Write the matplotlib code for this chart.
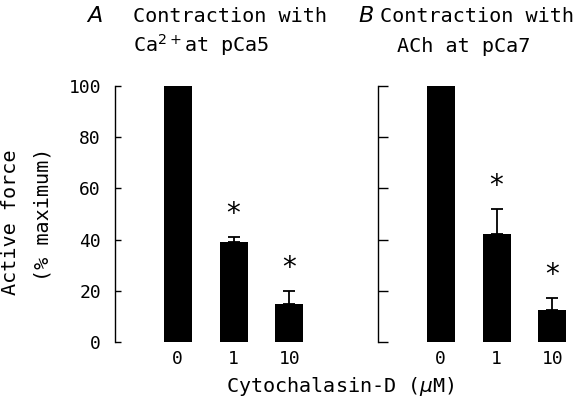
import matplotlib
matplotlib.use("Agg")
import matplotlib.pyplot as plt

# data
doses = ["0", "1", "10"]
force_ca = [100, 39, 15]        # panel A, Ca2+ at pCa5
err_ca = [0, 2, 5]
force_ach = [100, 42, 12.5]     # panel B, ACh at pCa7
err_ach = [0, 10, 4.5]
signif = [False, True, True]
yticks = [0, 20, 40, 60, 80, 100]

plt.rcParams['font.family'] = 'DejaVu Sans Mono'
plt.rcParams['mathtext.fontset'] = 'dejavusans'

W, H = 586, 405
fig = plt.figure(figsize=(W / 100, H / 100), dpi=100)
fig.patch.set_facecolor('white')


def panel(left, force, err, tick_labels, ticklen):
    ax = fig.add_axes([left / W, (H - 342) / H, 208 / W, 256 / H])
    x = range(len(force))
    ax.bar(x, force, width=0.5, color='black')
    ax.errorbar(x, force, yerr=[[0] * len(err), err], fmt='none',
                ecolor='black', elinewidth=1.3, capsize=4, capthick=1.3)
    for i, s in enumerate(signif):
        if s:
            ax.text(i, force[i] + err[i] + 9, "*", ha='center', va='center',
                    fontsize=20, fontfamily='DejaVu Sans')
    ax.set_ylim(0, 100)
    ax.set_xlim(-1.12, 2.6)
    ax.set_xticks(list(x))
    ax.set_xticklabels(doses, fontsize=13)
    ax.tick_params(axis='x', length=0, pad=6)
    ax.set_yticks(yticks)
    ax.tick_params(axis='y', direction='in', length=ticklen, width=1,
                   labelsize=13, pad=10)
    if not tick_labels:
        ax.set_yticklabels([])
    for sp in ['top', 'right', 'bottom']:
        ax.spines[sp].set_visible(False)
    ax.spines['left'].set_linewidth(1)
    return ax


axA = panel(115, force_ca, err_ca, True, 4)
axB = panel(378, force_ach, err_ach, False, 7)

# y label, two lines placed separately
fig.text(11 / W, 1 - 222 / H, "Active force", fontsize=14.5, rotation=90,
         ha='center', va='center')
fig.text(43 / W, 1 - 214 / H, "(% maximum)", fontsize=14.5, rotation=90,
         ha='center', va='center')

fig.text(87 / W, 1 - 22 / H, "A", fontsize=16, style='italic',
         fontfamily='DejaVu Sans', va='baseline')
fig.text(133 / W, 1 - 22 / H, "Contraction with", fontsize=14.5, va='baseline')
fig.text(133 / W, 1 - 52 / H, "Ca$^{2+}$at pCa5", fontsize=14.5, va='baseline')
fig.text(358 / W, 1 - 22 / H, "B", fontsize=16, style='italic',
         fontfamily='DejaVu Sans', va='baseline')
fig.text(380 / W, 1 - 22 / H, "Contraction with", fontsize=14.5, va='baseline')
fig.text(397 / W, 1 - 52 / H, "ACh at pCa7", fontsize=14.5, va='baseline')

fig.text(340 / W, 1 - 392 / H, "Cytochalasin-D ($\\mu$M)", fontsize=14.5,
         ha='center', va='baseline')

fig.savefig("out.png", dpi=100)
